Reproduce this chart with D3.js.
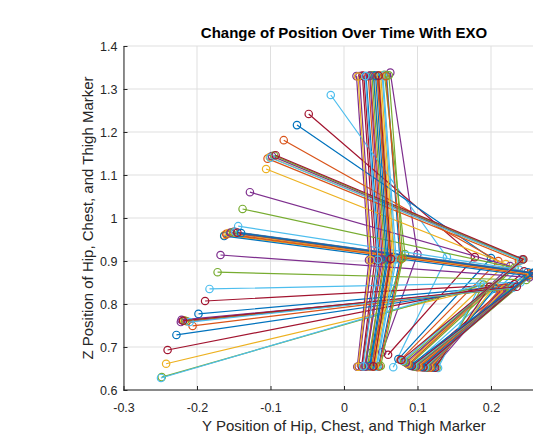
<!DOCTYPE html>
<html>
<head>
  <meta charset="utf-8">
  <title>Change of Position Over Time With EXO</title>
  <script src="https://d3js.org/d3.v7.min.js"></script>
  <style>
    body { margin: 0; background: #fff; }
    text { font-family: "Liberation Sans", Arial, Helvetica, sans-serif; }
  </style>
</head>
<body>
<script type="text/javascript">
  // one frame = chest -> hip -> thigh, plotted as '-o'
  var chestY = [0.030, 0.036, 0.041, 0.017, 0.046, 0.052, 0.025, 0.058, 0.033, 0.048,
    0.063, 0.055, -0.018, -0.048, -0.064, -0.082, -0.106, -0.128, -0.138, -0.144,
    -0.150, -0.155, -0.160, -0.163, -0.168, -0.172, -0.183, -0.189, -0.198, -0.206,
    -0.242, -0.222, -0.248, -0.249, -0.240, -0.228, -0.214, -0.218, -0.221, -0.216,
    -0.210, -0.219, -0.163, -0.160, -0.157, -0.154, -0.151, -0.148, -0.145, -0.140,
    -0.104, -0.101, -0.098, -0.095, -0.100, -0.093, 0.040, 0.045, 0.050, 0.021,
    0.038, 0.053, 0.027, 0.043, 0.057, 0.019, 0.035, 0.061, 0.029, 0.047];
  var chestZ = [1.330, 1.331, 1.330, 1.330, 1.331, 1.330, 1.331, 1.331, 1.330, 1.331,
    1.338, 1.333, 1.286, 1.242, 1.216, 1.181, 1.114, 1.060, 1.021, 0.981,
    0.968, 0.965, 0.963, 0.960, 0.914, 0.874, 0.835, 0.807, 0.777, 0.749,
    0.661, 0.758, 0.630, 0.628, 0.693, 0.728, 0.760, 0.762, 0.763, 0.761,
    0.758, 0.761, 0.958, 0.962, 0.965, 0.966, 0.967, 0.968, 0.966, 0.965,
    1.138, 1.142, 1.144, 1.145, 1.140, 1.146, 1.332, 1.330, 1.331, 1.330,
    1.332, 1.331, 1.330, 1.331, 1.330, 1.329, 1.331, 1.332, 1.330, 1.331];
  var hipY = [0.048, 0.054, 0.058, 0.034, 0.063, 0.069, 0.042, 0.076, 0.050, 0.066,
    0.100, 0.083, 0.140, 0.178, 0.200, 0.210, 0.220, 0.226, 0.232, 0.238,
    0.245, 0.250, 0.254, 0.256, 0.252, 0.248, 0.240, 0.232, 0.226, 0.220,
    0.205, 0.215, 0.190, 0.186, 0.198, 0.205, 0.212, 0.218, 0.222, 0.226,
    0.230, 0.235, 0.250, 0.253, 0.255, 0.257, 0.258, 0.258, 0.258, 0.257,
    0.238, 0.240, 0.242, 0.243, 0.241, 0.244, 0.058, 0.062, 0.068, 0.038,
    0.056, 0.071, 0.045, 0.060, 0.078, 0.036, 0.052, 0.080, 0.046, 0.064];
  var hipZ = [0.904, 0.906, 0.903, 0.902, 0.907, 0.904, 0.903, 0.905, 0.901, 0.906,
    0.916, 0.916, 0.909, 0.909, 0.907, 0.900, 0.893, 0.888, 0.884, 0.880,
    0.876, 0.874, 0.872, 0.870, 0.862, 0.856, 0.850, 0.846, 0.842, 0.838,
    0.842, 0.836, 0.845, 0.846, 0.840, 0.836, 0.834, 0.834, 0.835, 0.836,
    0.838, 0.840, 0.866, 0.868, 0.870, 0.871, 0.872, 0.873, 0.872, 0.872,
    0.900, 0.902, 0.903, 0.903, 0.902, 0.904, 0.905, 0.903, 0.906, 0.902,
    0.905, 0.904, 0.901, 0.906, 0.905, 0.902, 0.904, 0.907, 0.903, 0.905];
  var thighY = [0.030, 0.034, 0.038, 0.018, 0.041, 0.044, 0.024, 0.047, 0.028, 0.040,
    0.052, 0.036, 0.067, 0.060, 0.074, 0.077, 0.082, 0.086, 0.089, 0.092,
    0.095, 0.098, 0.100, 0.103, 0.106, 0.108, 0.110, 0.112, 0.114, 0.116,
    0.120, 0.122, 0.126, 0.128, 0.124, 0.120, 0.118, 0.116, 0.114, 0.112,
    0.110, 0.108, 0.105, 0.102, 0.100, 0.098, 0.096, 0.094, 0.092, 0.090,
    0.088, 0.086, 0.084, 0.082, 0.080, 0.078, 0.035, 0.038, 0.042, 0.020,
    0.032, 0.045, 0.025, 0.036, 0.048, 0.019, 0.029, 0.050, 0.026, 0.040];
  var thighZ = [0.655, 0.655, 0.656, 0.654, 0.655, 0.656, 0.655, 0.655, 0.654, 0.656,
    0.688, 0.686, 0.653, 0.682, 0.672, 0.670, 0.668, 0.662, 0.658, 0.656,
    0.655, 0.654, 0.653, 0.653, 0.653, 0.653, 0.653, 0.652, 0.652, 0.652,
    0.652, 0.652, 0.652, 0.651, 0.652, 0.652, 0.652, 0.653, 0.653, 0.653,
    0.653, 0.653, 0.654, 0.654, 0.655, 0.655, 0.655, 0.656, 0.656, 0.657,
    0.660, 0.662, 0.664, 0.666, 0.668, 0.670, 0.656, 0.655, 0.656, 0.655,
    0.656, 0.655, 0.655, 0.656, 0.655, 0.654, 0.655, 0.656, 0.655, 0.655];

  var xTicks = [-0.3, -0.2, -0.1, 0, 0.1, 0.2];
  var yTicks = [0.6, 0.7, 0.8, 0.9, 1, 1.1, 1.2, 1.3, 1.4];
  var colors = ["#0072BD", "#D95319", "#EDB120", "#7E2F8E", "#77AC30", "#4DBEEE", "#A2142F"];

  (function(){
    var w = 533, h = 441;
    var mLeft = 123.5, mRight = 564.5, mTop = 46, mBottom = 390;

    var svg = d3.select("body").append("svg")
      .attr("width", w)
      .attr("height", h);

    var x = d3.scaleLinear().domain([-0.3, 0.3]).range([mLeft, mRight]);
    var y = d3.scaleLinear().domain([0.6, 1.4]).range([mBottom, mTop]);

    // grid
    svg.append("g").selectAll("line")
      .data(xTicks).enter().append("line")
      .attr("x1", function(d){ return x(d); })
      .attr("x2", function(d){ return x(d); })
      .attr("y1", mTop).attr("y2", mBottom)
      .attr("stroke", "#dfdfdf").attr("stroke-width", 1);
    svg.append("g").selectAll("line")
      .data(yTicks).enter().append("line")
      .attr("x1", mLeft).attr("x2", mRight)
      .attr("y1", function(d){ return y(d); })
      .attr("y2", function(d){ return y(d); })
      .attr("stroke", "#dfdfdf").attr("stroke-width", 1);

    // frames
    var frames = chestY.map(function(d, i){
      return [[chestY[i], chestZ[i]], [hipY[i], hipZ[i]], [thighY[i], thighZ[i]]];
    });
    var line = d3.line()
      .x(function(p){ return x(p[0]); })
      .y(function(p){ return y(p[1]); });

    var plot = svg.append("g");
    frames.forEach(function(f, i){
      var c = colors[i % colors.length];
      var g = plot.append("g");
      g.append("path")
        .attr("d", line(f))
        .attr("fill", "none")
        .attr("stroke", c)
        .attr("stroke-width", 1.2);
      g.selectAll("circle")
        .data(f).enter().append("circle")
        .attr("cx", function(p){ return x(p[0]); })
        .attr("cy", function(p){ return y(p[1]); })
        .attr("r", 3.7)
        .attr("fill", "none")
        .attr("stroke", c)
        .attr("stroke-width", 1.2);
    });

    // axes
    var fmt = function(d){ return String(Math.round(d * 10) / 10); };
    var xAxis = d3.axisBottom(x).tickValues(xTicks).tickSizeInner(-4).tickSizeOuter(0).tickFormat(fmt);
    var yAxis = d3.axisLeft(y).tickValues(yTicks).tickSizeInner(-4).tickSizeOuter(0).tickFormat(fmt);

    var gx = svg.append("g")
      .attr("transform", "translate(0," + mBottom + ")")
      .call(xAxis);
    gx.select(".domain").attr("d", "M" + mLeft + ",0H" + w);
    var gy = svg.append("g")
      .attr("transform", "translate(" + mLeft + ",0)")
      .call(yAxis);

    [gx, gy].forEach(function(g){
      g.select(".domain").attr("stroke", "#262626");
      g.selectAll(".tick line").attr("stroke", "#262626");
      g.selectAll(".tick text")
        .attr("fill", "#262626")
        .attr("font-size", "12.5px")
        .style("font-family", "'Liberation Sans', Arial, sans-serif");
    });
    gx.selectAll(".tick text").attr("y", 21.5).attr("dy", 0);
    gy.selectAll(".tick text").attr("x", -6);

    // labels
    svg.append("text")
      .attr("x", (mLeft + mRight) / 2)
      .attr("y", 37.5)
      .attr("text-anchor", "middle")
      .attr("font-size", "15px")
      .attr("font-weight", "bold")
      .attr("fill", "#000")
      .text("Change of Position Over Time With EXO");

    svg.append("text")
      .attr("x", (mLeft + mRight) / 2)
      .attr("y", 430.5)
      .attr("text-anchor", "middle")
      .attr("font-size", "15px")
      .attr("fill", "#262626")
      .text("Y Position of Hip, Chest, and Thigh Marker");

    svg.append("text")
      .attr("transform", "translate(93," + ((mTop + mBottom) / 2) + ") rotate(-90)")
      .attr("text-anchor", "middle")
      .attr("font-size", "15px")
      .attr("fill", "#262626")
      .text("Z Position of Hip, Chest, and Thigh Marker");
  })();
</script>
</body>
</html>
